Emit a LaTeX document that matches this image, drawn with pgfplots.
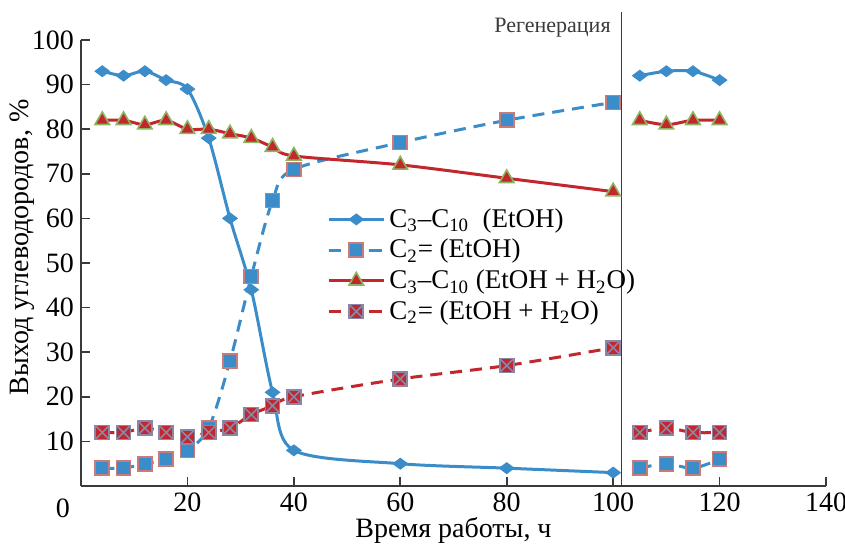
\documentclass[border=0pt]{standalone}
\usepackage{fontspec}
\setmainfont{Liberation Serif}
\usepackage{pgfplots}
\usepackage{pgfplotstable}
\pgfplotsset{compat=1.18}
\usetikzlibrary{calc}

\definecolor{cblue}{HTML}{3A8DC8}
\definecolor{cred}{HTML}{C1272D}
\definecolor{sqedge}{HTML}{C97B7B}
\definecolor{triedge}{HTML}{8DB560}
\definecolor{xedge}{HTML}{8C86A6}
\definecolor{axgray}{HTML}{3A3A3A}

% filled square with a cross
\pgfdeclareplotmark{sqx}{%
  \pgfpathrectangle{\pgfpoint{-\pgfplotmarksize}{-\pgfplotmarksize}}{\pgfpoint{2\pgfplotmarksize}{2\pgfplotmarksize}}%
  \pgfusepathqfillstroke
  \pgfpathmoveto{\pgfpoint{-\pgfplotmarksize}{-\pgfplotmarksize}}%
  \pgfpathlineto{\pgfpoint{\pgfplotmarksize}{\pgfplotmarksize}}%
  \pgfpathmoveto{\pgfpoint{-\pgfplotmarksize}{\pgfplotmarksize}}%
  \pgfpathlineto{\pgfpoint{\pgfplotmarksize}{-\pgfplotmarksize}}%
  \pgfusepathqstroke
}

% t  C3-C10(EtOH)  C2=(EtOH)  C3-C10(EtOH+H2O)  C2=(EtOH+H2O)
\pgfplotstableread{
t   a   b   c   d
4   93  4   82  12
8   92  4   82  12
12  93  5   81  13
16  91  6   82  12
20  89  8   80  11
24  78  13  80  12
28  60  28  79  13
32  44  47  78  16
36  21  64  76  18
40  8   71  74  20
60  5   77  72  24
80  4   82  69  27
100 3   86  66  31
}\before
\pgfplotstableread{
t   a   b   c   d
105 92  4   82  12
110 93  5   81  13
115 93  4   82  12
120 91  6   82  12
}\after

\begin{document}
\begin{tikzpicture}
\begin{axis}[
    name=ax,
    scale only axis,
    width=372.5pt, height=223pt,
    xmin=0, xmax=140, ymin=0, ymax=100,
    xtick={20,40,...,140}, ytick={10,20,...,100},
    axis x line=bottom, axis y line=left,
    axis line style={-, axgray, line width=0.8pt},
    tick style={axgray, line width=0.8pt},
    tick align=inside, major tick length=4.5pt,
    tick label style={font=\fontsize{14}{16}\selectfont},
    /pgf/number format/assume math mode=true,
    xlabel={Время работы, ч},
    ylabel={Выход углеводородов, \%},
    label style={font=\fontsize{14}{16}\selectfont},
    xlabel style={at={(axis description cs:0.5,0)}, anchor=base, yshift=-25.5pt},
    ylabel style={at={(axis description cs:-0.0792,0.535)}, anchor=center},
    clip=false,
    legend cell align=left,
    legend style={draw=none, fill=none, at={(0.322,0.641)}, anchor=north west,
        font=\fontsize{13.5}{16}\selectfont, row sep=0.5pt},
    legend image code/.code={\draw[mark repeat=2,mark phase=2,#1] plot coordinates {(0pt,0pt) (13.75pt,0pt) (27.5pt,0pt)};},
    s1/.style={cblue, line width=1.5pt, smooth, mark=diamond*, mark size=3.6pt,
        mark options={solid, rotate=90, fill=cblue, draw=cblue, line width=0.5pt}},
    s2/.style={cblue, line width=1.5pt, smooth, dash pattern=on 6pt off 4pt, mark=square*, mark size=3.5pt,
        mark options={solid, fill=cblue, draw=sqedge, line width=0.8pt}},
    s3/.style={cred, line width=1.5pt, smooth, mark=triangle*, mark size=4.2pt,
        mark options={solid, fill=cred, draw=triedge, line width=0.8pt}},
    s4/.style={cred, line width=1.5pt, smooth, dash pattern=on 6pt off 4pt, mark=sqx, mark size=3.5pt,
        mark options={solid, fill=cred, draw=xedge, line width=0.8pt}},
]
\addplot[s1] table[x=t, y=a] {\before};
\addlegendentry{C\textsubscript{3}–C\textsubscript{10}\ \ (EtOH)}
\addplot[s2] table[x=t, y=b] {\before};
\addlegendentry{C\textsubscript{2}= (EtOH)}
\addplot[s3] table[x=t, y=c] {\before};
\addlegendentry{C\textsubscript{3}–C\textsubscript{10} (EtOH + H\textsubscript{2}O)}
\addplot[s4] table[x=t, y=d] {\before};
\addlegendentry{C\textsubscript{2}= (EtOH + H\textsubscript{2}O)}

\addplot[s1, forget plot] table[x=t, y=a] {\after};
\addplot[s2, forget plot] table[x=t, y=b] {\after};
\addplot[s3, forget plot] table[x=t, y=c] {\after};
\addplot[s4, forget plot] table[x=t, y=d] {\after};

\addplot[axgray, line width=0.8pt, forget plot] coordinates {(101.6,0) (101.6,106.3)};
\node[anchor=base east, font=\fontsize{11}{13}\selectfont, text=axgray, inner sep=0pt] at (axis cs:99.6,101.6) {Регенерация};
\node[font=\fontsize{14}{16}\selectfont, inner sep=0pt] at (axis cs:0,0) [xshift=-9pt, yshift=-11pt] {0};
\end{axis}
\pgfresetboundingbox
\path[use as bounding box] ($(ax.south west)+(-40.5pt,-32.5pt)$) rectangle ($(ax.north east)+(9.5pt,20pt)$);
\end{tikzpicture}
\end{document}
